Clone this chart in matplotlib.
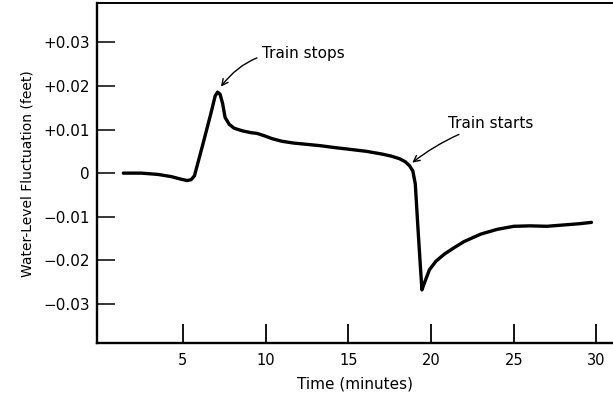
import numpy as np
import matplotlib.pyplot as plt

# water level readings (time in minutes, level in feet)
time_min = [1.4, 2.5, 3.5, 4.3, 4.9, 5.25, 5.5, 5.7, 6.2, 6.7, 6.95, 7.1, 7.25,
            7.4, 7.55, 7.8, 8.1, 8.6, 9.1, 9.5, 9.9, 10.4, 11.0, 11.7, 12.5, 13.3,
            14.1, 15.0, 16.1, 17.0, 17.6, 18.1, 18.45, 18.7, 18.9, 19.05,
            19.2, 19.35, 19.45, 19.6, 19.9, 20.3, 20.8, 21.4, 22.0, 23.0,
            24.0, 25.0, 26.0, 27.0, 28.0, 29.0, 29.7]
level_ft = [0.0, 0.0, -0.0003, -0.0008, -0.0014, -0.0017, -0.0015, -0.0006,
            0.0065, 0.0138, 0.0177, 0.0186, 0.0181, 0.016, 0.0128, 0.0112,
            0.0103, 0.0097, 0.0093, 0.0091, 0.0086, 0.0079, 0.0073, 0.0069,
            0.0066, 0.0063, 0.0059, 0.0055, 0.0050, 0.0044, 0.0039, 0.0033,
            0.0026, 0.0017, 0.0005, -0.0025, -0.012, -0.021, -0.0268, -0.0252,
            -0.0222, -0.0202, -0.0186, -0.0171, -0.0157, -0.0140, -0.0129,
            -0.0122, -0.0121, -0.0122, -0.0119, -0.0116, -0.0113]

x_ticks = [5, 10, 15, 20, 25, 30]
y_ticks = [0.03, 0.02, 0.01, 0, -0.01, -0.02, -0.03]
y_labels = ['+0.03', '+0.02', '+0.01', '0', '\u22120.01', '\u22120.02', '\u22120.03']

fig = plt.figure(figsize=(6.13, 3.98), dpi=100)
ax = fig.add_axes([0.158, 0.138, 0.842, 0.854])

ax.plot(time_min, level_ft, color='black', linewidth=2.4,
        solid_capstyle='round', solid_joinstyle='round')

ax.set_xlim(-0.2, 31.0)
ax.set_ylim(-0.039, 0.039)
ax.set_xticks(x_ticks)
ax.set_yticks(y_ticks)
ax.set_yticklabels(y_labels)

ax.tick_params(axis='x', direction='in', length=14, width=1.3, pad=7, labelsize=10.5)
ax.tick_params(axis='y', direction='in', length=13, width=1.1, pad=5, labelsize=11)

ax.spines['right'].set_visible(False)
ax.spines['left'].set_linewidth(1.7)
ax.spines['bottom'].set_linewidth(1.7)
ax.spines['top'].set_linewidth(1.4)

ax.set_xlabel('Time (minutes)', fontsize=11, labelpad=6)
ax.set_ylabel('Water-Level Fluctuation (feet)', fontsize=10, labelpad=6)

ax.annotate('Train stops', xy=(7.25, 0.0196), xytext=(9.8, 0.0275),
            fontsize=11, va='center', ha='left',
            arrowprops=dict(arrowstyle='->', color='black', lw=1.0,
                            connectionstyle='arc3,rad=0.3',
                            shrinkA=2, shrinkB=1))
ax.annotate('Train starts', xy=(18.8, 0.0022), xytext=(21.0, 0.0115),
            fontsize=11, va='center', ha='left',
            arrowprops=dict(arrowstyle='->', color='black', lw=1.0,
                            connectionstyle='arc3,rad=0.1',
                            shrinkA=2, shrinkB=1))

fig.savefig('out.png', dpi=100)
